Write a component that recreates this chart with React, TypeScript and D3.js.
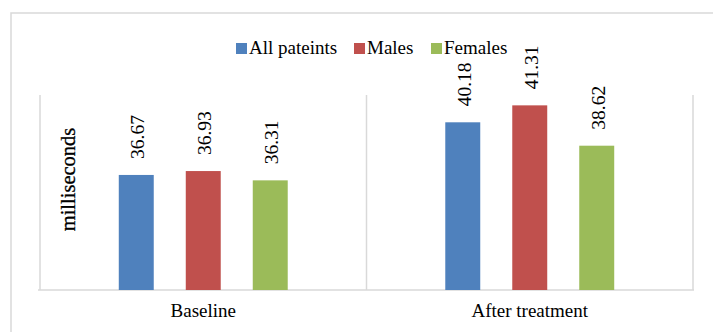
import React from "react";
import * as d3 from "d3";

const categories = ["Baseline", "After treatment"];
const seriesNames = ["All pateints", "Males", "Females"];
const allPatients = [36.67, 40.18];
const males = [36.93, 41.31];
const females = [36.31, 38.62];
const seriesColors = ["#4f81bd", "#c0504d", "#9bbb59"];
const yAxisTitle = "milliseconds";

const W = 713;
const H = 332;
const FONT = "'Liberation Serif', 'Times New Roman', serif";

export default function App() {
  const seriesValues = [allPatients, males, females];
  const plotLeft = 40;
  const plotRight = 693;
  const plotTop = 95;
  const plotBottom = 290;

  const x0 = d3.scaleBand<string>().domain(categories).range([plotLeft, plotRight]).padding(0);
  const x1 = d3
    .scaleBand<string>()
    .domain(seriesNames)
    .range([0, x0.bandwidth()])
    .paddingInner(0.478)
    .paddingOuter(1.176);
  const y = d3.scaleLinear().domain([29, 42]).range([plotBottom, plotTop]);

  const gridColor = "#d9d9d9";
  const gridXs = [...categories.map((c) => x0(c) as number), plotRight];

  const legendItems = [
    { name: seriesNames[0], x: 236 },
    { name: seriesNames[1], x: 354 },
    { name: seriesNames[2], x: 431 },
  ];

  const ts: React.CSSProperties = { fontFamily: FONT };

  return (
    <svg
      width={W}
      height={H}
      style={{ position: "absolute", left: 0, top: 0, background: "#fff", fontFamily: FONT }}
    >
      <rect x={0} y={0} width={W} height={H} fill="#fff" />
      <rect x={11} y={13} width={W + 20} height={H + 20} fill="#fff" stroke={gridColor} strokeWidth={1.5} />

      {legendItems.map((it, i) => (
        <g key={it.name}>
          <rect x={it.x} y={43} width={11} height={11} fill={seriesColors[i]} />
          <text x={it.x + 13} y={54} fontSize={19} fill="#000" style={ts}>
            {it.name}
          </text>
        </g>
      ))}

      {gridXs.map((gx, i) => (
        <line key={i} x1={gx} x2={gx} y1={plotTop} y2={plotBottom} stroke={gridColor} strokeWidth={1.5} />
      ))}
      <line x1={plotLeft - 2} x2={plotRight + 1} y1={plotBottom} y2={plotBottom} stroke={gridColor} strokeWidth={1.5} />

      {categories.map((cat, ci) => (
        <g key={cat} transform={`translate(${x0(cat)},0)`}>
          {seriesNames.map((s, si) => {
            const v = seriesValues[si][ci];
            const bx = x1(s) as number;
            const bw = x1.bandwidth();
            const top = y(v);
            return (
              <g key={s}>
                <rect x={bx} y={top} width={bw} height={plotBottom - top} fill={seriesColors[si]} />
                <text
                  transform={`translate(${bx + bw / 2},${top - 16}) rotate(-90)`}
                  dy={8}
                  fontSize={19.5}
                  fill="#000"
                  style={ts}
                >
                  {v.toFixed(2)}
                </text>
              </g>
            );
          })}
        </g>
      ))}

      {categories.map((cat) => (
        <text
          key={cat}
          x={(x0(cat) as number) + x0.bandwidth() / 2}
          y={317}
          textAnchor="middle"
          fontSize={19}
          fill="#000"
          style={ts}
        >
          {cat}
        </text>
      ))}

      <text
        transform={`translate(75,${(plotTop + plotBottom) / 2 - 13}) rotate(-90)`}
        textAnchor="middle"
        fontSize={20.5}
        fill="#000"
        style={{ ...ts, stroke: "#000", strokeWidth: 0.3 }}
      >
        {yAxisTitle}
      </text>
    </svg>
  );
}
